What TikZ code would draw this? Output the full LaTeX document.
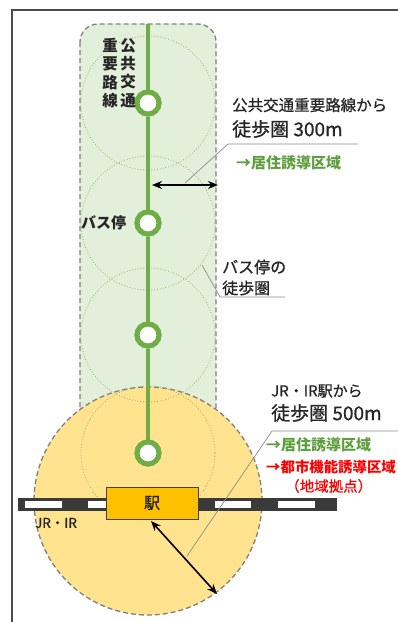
\documentclass[tikz,border=0pt]{standalone}
\usepackage{fontspec}
\setmainfont{Noto Sans CJK JP}
\newfontfamily\medjp{Noto Sans CJK JP}[FakeBold=0.8]
\usetikzlibrary{arrows.meta}
\definecolor{zonegreen}{HTML}{E2EFDA}
\definecolor{linegreen}{HTML}{70AD47}
\definecolor{txtgreen}{HTML}{5E9E3C}
\definecolor{zoneorange}{HTML}{FFE38F}
\definecolor{stationfill}{HTML}{FFC000}
\definecolor{dotgreen}{HTML}{8FB06A}
\definecolor{txtdark}{HTML}{262626}
\definecolor{raildark}{HTML}{3A3A3A}
\tikzset{
  frameline/.style={draw=black!70, line width=1.6pt},
  zonebox/.style={draw=black!50, fill=zonegreen, dash pattern=on 5pt off 3pt, line width=1.3pt, rounded corners=18pt},
  orangezone/.style={draw=black!50, fill=zoneorange, dash pattern=on 5pt off 3pt, line width=1.3pt},
  walkcircle/.style={draw=dotgreen, dotted, line width=0.8pt},
  gline/.style={draw=linegreen, line width=4.5pt},
  stopnode/.style={circle, draw=linegreen, fill=white, line width=5pt, minimum size=22pt, inner sep=0pt},
  leader/.style={draw=black!45, line width=0.7pt},
  dimarrow/.style={{Stealth[length=10pt,width=8pt]}-{Stealth[length=10pt,width=8pt]}, line width=1.6pt, draw=black},
  lbl/.style={anchor=west, inner sep=0pt, text=txtdark},
}
\begin{document}
\begin{tikzpicture}[x=1pt,y=-1pt]
\useasboundingbox (0,0) rectangle (398,622);
\fill[white] (0,0) rectangle (398,622);
\draw[frameline] (12,622) -- (12,10) -- (398,10);

% green zone along the line
\path[zonebox] (80,24) rectangle (216,445);

% station walking zone
\path[orangezone] (148,501) circle[radius=114pt];

% stops
\node[stopnode] (s1) at (148,103) {};
\node[stopnode] (s2) at (148,223) {};
\node[stopnode] (s3) at (148,335) {};
\node[stopnode] (s4) at (148,453) {};

% walking circles of bus stops
\foreach \n in {s1,s2,s3,s4} \draw[walkcircle] (\n.center) circle[radius=67pt];

% route line
\coordinate (top) at (148,24);
\draw[gline] (top) -- (s1);
\draw[gline] (s1) -- (s2);
\draw[gline] (s2) -- (s3);
\draw[gline] (s3) -- (s4);
\foreach \n in {s1,s2,s3,s4} \node[stopnode] at (\n) {};

% railway
\fill[raildark] (18,498) rectangle (337,511);
\fill[white] (25,501) rectangle (62,508);
\fill[white] (88,501) rectangle (106,508);
\fill[white] (215,501) rectangle (251,508);
\fill[white] (278,501) rectangle (315,508);
\node[draw=black!75, line width=1pt, fill=stationfill, minimum width=92pt, minimum height=32pt, inner sep=0pt, font=\medjp\fontsize{16}{16}\selectfont, text=txtdark] (st) at (152,503) {駅};
\node[lbl, anchor=center, font=\medjp\fontsize{13.5}{13.5}\selectfont] (jr) at (56,523) {JR・IR};

% dimension arrows
\coordinate (ta) at (152,185);
\coordinate (tb) at (218,185);
\draw[dimarrow] (ta) -- (tb);
\coordinate (ba) at (151,521);
\coordinate (bb) at (217,594);
\draw[dimarrow] (ba) -- (bb);

% leader lines
\coordinate (l1a) at (185,183);
\coordinate (l1b) at (228,144);
\coordinate (l1c) at (358,144);
\draw[leader] (l1a) -- (l1b) -- (l1c);
\coordinate (l2a) at (202,265);
\coordinate (l2b) at (220,297);
\coordinate (l2c) at (285,297);
\draw[leader] (l2a) -- (l2b) -- (l2c);
\coordinate (l3a) at (187,556);
\coordinate (l3b) at (272,431);
\coordinate (l3c) at (398,431);
\draw[leader] (l3a) -- (l3b) -- (l3c);

% vertical label
\node[inner sep=0pt, align=center, text=txtdark, font=\fontsize{15.5}{18.3}\selectfont\bfseries] (v1) at (128,73) {公\\共\\交\\通};
\node[inner sep=0pt, align=center, text=txtdark, font=\fontsize{15.5}{18.3}\selectfont\bfseries] (v2) at (110,73) {重\\要\\路\\線};

% texts
\node[lbl, font=\medjp\fontsize{15.5}{15.5}\selectfont] (t1) at (232,105) {公共交通重要路線から};
\node[lbl, font=\medjp\fontsize{19}{19}\selectfont] (t2) at (232,129) {徒歩圏 300m};
\node[lbl, text=txtgreen, font=\fontsize{15}{15}\selectfont\bfseries] (t3) at (236,163) {→居住誘導区域};
\node[lbl, font=\fontsize{15}{15}\selectfont\bfseries] (t4) at (81,223) {バス停};
\node[lbl, font=\medjp\fontsize{16}{16}\selectfont] (t5) at (222,267) {バス停の};
\node[lbl, font=\medjp\fontsize{16}{16}\selectfont] (t6) at (222,288) {徒歩圏};
\node[lbl, font=\medjp\fontsize{15}{15}\selectfont] (t7) at (271,391) {JR・IR駅から};
\node[lbl, font=\medjp\fontsize{19}{19}\selectfont] (t8) at (271,413) {徒歩圏 500m};
\node[lbl, text=txtgreen, font=\fontsize{15}{15}\selectfont\bfseries] (t9) at (266,445) {→居住誘導区域};
\node[lbl, text=red, font=\fontsize{14.4}{14.4}\selectfont\bfseries] (t10) at (266,467) {→都市機能誘導区域};
\node[lbl, text=red, font=\medjp\fontsize{14.5}{14.5}\selectfont] (t11) at (285,486) {（地域拠点）};
\end{tikzpicture}
\end{document}
